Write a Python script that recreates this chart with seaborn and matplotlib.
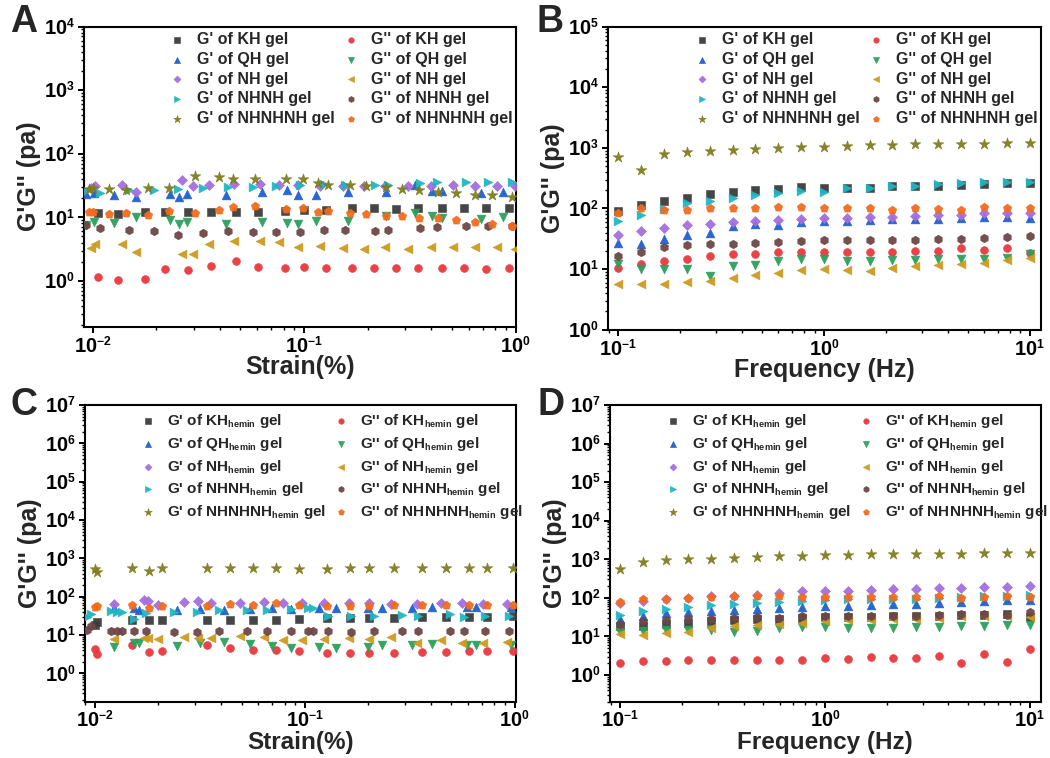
import numpy as np
import matplotlib
matplotlib.use("Agg")
import matplotlib.pyplot as plt
import seaborn as sns
from matplotlib.ticker import LogLocator, NullFormatter, LogFormatterSciNotation

try:
    # smaller sub/superscripts in math text (subscript "hemin", exponents)
    import matplotlib._mathtext as _mt
    _mt.SHRINK_FACTOR = 0.6
except Exception:
    pass

# ---------------- Panel A: strain sweep of the plain gels ----------------
a_kh_x = [0.0106, 0.0132, 0.0176, 0.0219, 0.0282, 0.0363, 0.0477, 0.0603, 0.0813, 0.100,
          0.127, 0.168, 0.214, 0.271, 0.346, 0.449, 0.569, 0.724, 0.933]
a_kh_gp = [11.7, 11.3, 12.3, 12.0, 12.0, 12.3, 12.3, 12.3, 12.7, 13.2, 13.1, 13.9, 13.9, 13.5,
           13.9, 13.9, 13.9, 13.9, 13.9]
a_kh_gpp = [1.17, 1.03, 1.06, 1.51, 1.47, 1.73, 2.02, 1.66, 1.62, 1.64, 1.57, 1.58, 1.62, 1.58,
            1.58, 1.58, 1.58, 1.55, 1.60]

a_qh_x = [0.00927, 0.0101, 0.0126, 0.0161, 0.0233, 0.0255, 0.0279, 0.0428, 0.0630, 0.0834,
          0.0938, 0.114, 0.161, 0.245, 0.336, 0.403, 0.449, 0.689, 0.869]
a_qh_gp = [23.3, 23.9, 22.0, 20.7, 23.3, 21.2, 23.3, 22.8, 25.4, 27.0, 22.8, 22.8, 25.4, 25.0,
           31.6, 26.3, 26.3, 23.9, 24.8]
a_qh_gpp = [7.66, 8.34, 8.04, 10.2, 9.19, 7.85, 8.34, 7.85, 8.34, 8.14, 7.85, 8.65, 8.86, 10.4,
            11.6, 10.6, 9.75, 9.41, 10.0]

a_nh_x = [0.00986, 0.0103, 0.0137, 0.0160, 0.0265, 0.0297, 0.0356, 0.0464, 0.0620, 0.0762,
          0.0940, 0.119, 0.153, 0.192, 0.241, 0.310, 0.399, 0.506, 0.641, 0.817, 0.996]
a_nh_gp = [29.0, 30.5, 31.6, 24.8, 38.8, 30.9, 31.6, 32.8, 32.8, 32.4, 31.6, 30.9, 30.9, 30.5,
           30.9, 30.9, 30.5, 31.6, 30.5, 30.5, 30.5]
a_nh_gpp = [3.28, 3.79, 3.79, 2.80, 2.63, 2.63, 3.79, 4.28, 4.18, 4.03, 3.36, 3.57, 3.28, 3.16,
            3.36, 3.16, 3.44, 3.36, 3.44, 3.36, 3.16]

a_nhnh_x = [0.0093, 0.0108, 0.0148, 0.0194, 0.0252, 0.0334, 0.0438, 0.0575, 0.0738, 0.0957,
            0.124, 0.156, 0.216, 0.249, 0.352, 0.424, 0.581, 0.738, 0.957]
a_nhnh_gp = [26.0, 23.9, 26.4, 27.0, 28.0, 29.0, 29.8, 29.8, 30.9, 31.6, 32.8, 31.6, 31.6, 32.4,
             34.4, 35.7, 35.7, 35.7, 35.7]
a_nhnh_gpp = [7.6, 6.79, 6.39, 6.16, 5.32, 5.66, 6.16, 5.80, 5.80, 5.94, 6.39, 6.39, 6.16, 6.39,
              6.70, 6.95, 7.39, 7.21, 7.21]

a_nhnhnh_x = [0.0096, 0.0100, 0.0120, 0.0143, 0.0182, 0.0229, 0.0306, 0.0397, 0.0459, 0.0585,
              0.082, 0.0989, 0.116, 0.130, 0.165, 0.197, 0.244, 0.289, 0.348, 0.430, 0.522,
              0.641, 0.773, 0.962]
a_nhnhnh_gp = [28.0, 29.0, 28.0, 26.4, 29.0, 29.0, 43.9, 42.8, 39.3, 39.3, 39.3, 40.3, 34.8, 31.6,
               31.6, 30.5, 29.8, 28.0, 26.4, 24.8, 23.9, 22.8, 22.0, 21.2]
a_nhnhnh_gpp = [12.0, 12.3, 11.3, 11.6, 10.9, 12.4, 11.6, 13.1, 14.4, 14.9, 13.5, 14.0, 12.3, 12.4,
                11.6, 11.3, 10.4, 10.4, 9.75, 9.64, 9.19, 8.34, 7.85, 7.39]

# ---------------- Panel B: frequency sweep of the plain gels ----------------
freq = [0.1, 0.129, 0.167, 0.215, 0.278, 0.359, 0.464, 0.599, 0.774, 1.0,
        1.29, 1.67, 2.15, 2.78, 3.59, 4.64, 5.99, 7.74, 10.0]
b_kh_gp = [90, 112, 135, 150, 170, 185, 198, 208, 222, 218, 218, 220, 232, 238, 235, 245, 250, 258, 262]
b_kh_gpp = [10.5, 12.2, 13.5, 14.4, 16.4, 17.9, 17.9, 18.8, 19.3, 19.3, 19.0, 19.0, 19.3, 19.8,
            20.0, 22.5, 20.3, 22.2, 18.6]
b_qh_gp = [27, 25.5, 31.6, 37, 39.7, 51, 56, 53, 60, 62, 63, 64, 66, 68, 68, 70, 73, 72, 70]
b_qh_gpp = [12.2, 9.9, 10.1, 10.1, 7.7, 11.2, 11.9, 13.5, 14.8, 14.8, 13.5, 13.5, 13.9, 13.9,
            14.4, 14.8, 14.4, 15.4, 17.5]
b_nh_gp = [37, 43, 48, 52.5, 54.5, 59.6, 61.8, 64, 66, 69, 70, 72, 73, 75, 77, 79, 83, 85, 85]
b_nh_gpp = [5.7, 5.7, 5.6, 6.2, 6.3, 7.2, 8.0, 8.7, 9.5, 9.9, 9.6, 9.3, 10.5, 11.2, 11.9, 12.2,
            12.7, 13.9, 15.4]
b_nhnh_gp = [62, 77, 99, 121, 135, 150, 164, 181, 193, 188, 214, 216, 233, 239, 255, 265, 272, 275, 275]
b_nhnh_gpp = [16.4, 19, 23, 24.6, 25.5, 26.2, 27.2, 27.9, 29, 29.7, 30, 29.7, 30, 30.5, 30.8,
              31.6, 32.4, 33.3, 35]
b_nhnhnh_gp = [700, 430, 780, 840, 880, 910, 950, 990, 1030, 1050, 1080, 1100, 1130, 1150, 1160,
               1170, 1170, 1190, 1210]
b_nhnhnh_gpp = [85, 101, 93, 95, 100, 100, 103, 105, 105, 101, 103, 100, 96, 100, 99, 95, 105, 101, 101]

# ---------------- Panel C: strain sweep of the hemin gels ----------------
c_kh_x = [0.0100, 0.0102, 0.0150, 0.0180, 0.0209, 0.0340, 0.0440, 0.0568, 0.0728, 0.0940,
          0.127, 0.164, 0.202, 0.266, 0.360, 0.469, 0.606, 0.738, 0.982]
c_kh_gp = [18.0, 22.6, 24.9, 24.9, 24.9, 24.9, 24.9, 24.9, 24.9, 25.9, 27.5, 28.6, 28.6, 28.6,
           29.1, 30.3, 30.3, 30.3, 31.5]
c_kh_gpp = [4.3, 3.2, 5.4, 3.6, 3.8, 5.4, 4.7, 4.0, 4.0, 3.8, 3.5, 3.4, 3.5, 3.5, 3.7, 3.7,
            3.8, 3.8, 3.8]

c_qh_x = [0.0123, 0.0154, 0.0162, 0.0247, 0.0317, 0.0412, 0.0546, 0.0700, 0.0855, 0.117,
          0.140, 0.199, 0.234, 0.325, 0.402, 0.594, 0.651, 0.966]
c_qh_gp = [50.0, 49.4, 44.8, 44.0, 46.6, 44.8, 46.6, 49.4, 46.6, 49.4, 49.4, 51.0, 51.0, 51.0,
           55.0, 53.0, 53.0, 55.0]
c_qh_gpp = [4.9, 6.1, 6.3, 5.2, 6.1, 6.6, 5.7, 5.2, 4.7, 5.0, 4.7, 5.0, 5.4, 5.4, 6.0, 5.4, 5.4, 5.5]

c_nh_x = [0.0123, 0.0171, 0.0179, 0.0200, 0.0265, 0.0309, 0.0357, 0.0490, 0.0638, 0.0786,
          0.0968, 0.124, 0.162, 0.202, 0.257, 0.341, 0.445, 0.560, 0.705, 0.917]
c_nh_gp = [63.7, 83.8, 77.4, 60.1, 73.1, 77.4, 68.9, 68.9, 73.1, 68.9, 68.9, 68.9, 68.9, 68.9,
           66.2, 66.2, 68.9, 68.9, 66.2, 66.2]
c_nh_gpp = [7.7, 8.2, 8.2, 7.7, 8.8, 8.5, 8.5, 9.4, 8.8, 7.3, 7.3, 8.0, 8.5, 7.7, 9.0, 6.3,
            7.3, 6.3, 6.3, 6.6]

c_nhnh_x = [0.0092, 0.0096, 0.0119, 0.0127, 0.0134, 0.0153, 0.0175, 0.0237, 0.0306, 0.0390,
            0.0532, 0.0663, 0.0855, 0.103, 0.109, 0.129, 0.166, 0.214, 0.291, 0.346, 0.491,
            0.573, 0.726, 0.938]
c_nhnh_gp = [30.3, 35.0, 43.0, 40.6, 40.6, 25.9, 36.8, 40.6, 40.6, 44.8, 44.8, 44.8, 46.6, 49.4,
             49.4, 31.5, 31.5, 32.1, 33.4, 31.5, 34.8, 30.3, 31.5, 31.5]
c_nhnh_gpp = [13.8, 16.8, 12.6, 12.6, 12.6, 12.6, 12.6, 12.1, 12.1, 12.6, 12.6, 12.6, 12.6, 12.6,
              12.6, 12.6, 12.1, 12.6, 12.6, 12.6, 12.6, 12.6, 12.6, 12.6]

c_nhnhnh_x = c_kh_x
c_nhnhnh_gp = [540, 450, 550, 470, 550, 550, 571, 571, 550, 518, 518, 550, 550, 550, 571, 571,
               571, 571, 571]
c_nhnhnh_gpp = [54.5, 56.0, 60.1, 49.4, 57.8, 57.8, 63.7, 60.1, 68.9, 60.1, 56.6, 56.6, 58.0,
                60.1, 60.1, 60.1, 60.1, 60.1, 60.1]

# ---------------- Panel D: frequency sweep of the hemin gels ----------------
d_kh_gp = [18.5, 18.8, 21.5, 22.8, 24.6, 26.1, 27.7, 28.7, 29.9, 31, 31.6, 32, 33.5, 34.8, 34.8,
           36, 36, 37.6, 31.6]
d_kh_gpp = [2.07, 2.37, 2.37, 2.47, 2.51, 2.47, 2.51, 2.51, 2.47, 2.71, 2.66, 2.87, 2.76, 2.76,
            3.04, 2.07, 3.48, 2.15, 4.64]
d_qh_gp = [28, 34.8, 40, 42, 46, 48, 53, 56, 58, 60, 62, 64, 68, 71, 75, 78, 83, 86, 87]
d_qh_gpp = [12.8, 13.9, 14.7, 14.7, 14.7, 12.8, 13.9, 16.2, 17.1, 17.1, 16.8, 16.2, 16.2, 17.1,
            17.8, 18.5, 18.8, 19.6, 19.6]
d_nh_gp = [72, 83, 91, 100, 110, 114, 121, 133, 147, 153, 155, 162, 168, 171, 178, 181, 188, 192, 203]
d_nh_gpp = [11.4, 11.0, 12.1, 13.3, 16.2, 18.5, 19.6, 20.7, 22.8, 24.6, 26.1, 27.1, 27.7, 28.7,
            29.9, 33.5, 34.8, 34.8, 31.6]
d_nhnh_gp = [37, 46, 53, 58, 64, 68, 72, 78, 83, 87, 91, 91, 94, 96, 100, 106, 110, 114, 121]
d_nhnh_gpp = [21.5, 24.6, 26.1, 27.7, 28.7, 29.9, 31.6, 29.9, 32.9, 34.8, 34.8, 33.5, 34.8, 34.8,
              36.9, 38.3, 38.3, 36.9, 42.2]
d_nhnhnh_gp = [560, 860, 944, 1000, 1040, 1100, 1144, 1189, 1235, 1283, 1309, 1334, 1359, 1386,
               1413, 1413, 1440, 1468, 1496]
d_nhnhnh_gpp = [78, 91, 96, 100, 106, 110, 114, 110, 106, 106, 106, 106, 106, 106, 110, 100, 106,
                110, 106]

GELS = ["KH", "QH", "NH", "NHNH", "NHNHNH"]

# marker / colour for (G', G'') of each gel
MARKERS = {"KH": ("s", "o"), "QH": ("^", "v"), "NH": ("D", "<"),
           "NHNH": (">", "h"), "NHNHNH": ("*", "p")}
COLORS = {"KH": ("#3c3c3c", "#e8393e"), "QH": ("#1f5fce", "#2a9f5c"),
          "NH": ("#a46ee0", "#cc9a1e"), "NHNH": ("#20b6c4", "#6d4646"),
          "NHNHNH": ("#7f7d1f", "#f26b1d")}
SIZES = {"s": 28, "o": 32, "^": 40, "v": 40, "D": 26, "<": 40, ">": 40,
         "h": 38, "*": 66, "p": 40}

sns.set_style("ticks")
plt.rcParams.update({
    "font.family": ["Liberation Sans", "DejaVu Sans"],
    "font.weight": "bold",
    "axes.labelweight": "bold",
    "mathtext.default": "regular",
    "axes.linewidth": 1.5,
    "xtick.major.width": 1.4, "ytick.major.width": 1.4,
    "xtick.minor.width": 1.0, "ytick.minor.width": 1.0,
    "xtick.major.size": 4, "ytick.major.size": 4,
    "xtick.minor.size": 2.2, "ytick.minor.size": 2.2,
    "xtick.major.pad": 2.5, "ytick.major.pad": 2.5,
    "xtick.labelsize": 14.5, "ytick.labelsize": 14.5,
    "xtick.direction": "out", "ytick.direction": "out",
    "xtick.color": "black", "ytick.color": "black",
    "axes.edgecolor": "black",
})

fig = plt.figure(figsize=(10.5, 7.58), dpi=100)
fig.patch.set_facecolor("white")

ax_a = fig.add_axes([0.080, 0.569, 0.411, 0.396])
ax_b = fig.add_axes([0.579, 0.565, 0.412, 0.400])
ax_c = fig.add_axes([0.081, 0.0739, 0.410, 0.3918])
ax_d = fig.add_axes([0.581, 0.0739, 0.410, 0.3918])

panels = [
    (ax_a, {"KH": (a_kh_x, a_kh_gp, a_kh_gpp), "QH": (a_qh_x, a_qh_gp, a_qh_gpp),
            "NH": (a_nh_x, a_nh_gp, a_nh_gpp), "NHNH": (a_nhnh_x, a_nhnh_gp, a_nhnh_gpp),
            "NHNHNH": (a_nhnhnh_x, a_nhnhnh_gp, a_nhnhnh_gpp)},
     False, "Strain(%)", (0.0091, 1.0), (0.19, 1e4), "A", (0.010, 0.971), 0.197),
    (ax_b, {"KH": (freq, b_kh_gp, b_kh_gpp), "QH": (freq, b_qh_gp, b_qh_gpp),
            "NH": (freq, b_nh_gp, b_nh_gpp), "NHNH": (freq, b_nhnh_gp, b_nhnh_gpp),
            "NHNHNH": (freq, b_nhnhnh_gp, b_nhnhnh_gpp)},
     False, "Frequency (Hz)", (0.089, 11.3), (1.0, 1e5), "B", (0.511, 0.971), 0.199),
    (ax_c, {"KH": (c_kh_x, c_kh_gp, c_kh_gpp), "QH": (c_qh_x, c_qh_gp, c_qh_gpp),
            "NH": (c_nh_x, c_nh_gp, c_nh_gpp), "NHNH": (c_nhnh_x, c_nhnh_gp, c_nhnh_gpp),
            "NHNHNH": (c_nhnhnh_x, c_nhnhnh_gp, c_nhnhnh_gpp)},
     True, "Strain(%)", (0.00896, 1.01), (0.18, 1e7), "C", (0.010, 0.466), 0.128),
    (ax_d, {"KH": (freq, d_kh_gp, d_kh_gpp), "QH": (freq, d_qh_gp, d_qh_gpp),
            "NH": (freq, d_nh_gp, d_nh_gpp), "NHNH": (freq, d_nhnh_gp, d_nhnh_gpp),
            "NHNHNH": (freq, d_nhnhnh_gp, d_nhnhnh_gpp)},
     True, "Frequency (Hz)", (0.089, 11.3), (0.2, 1e7), "D", (0.512, 0.466), 0.128),
]


def gel_label(prefix, gel, hemin):
    if hemin:
        return prefix + " of " + gel + r"$_{\mathdefault{hemin}}$" + " gel"
    return prefix + " of " + gel + " gel"


def decades(lo, hi):
    """Powers of ten lying inside [lo, hi]."""
    k0 = int(np.ceil(np.log10(lo) - 1e-9))
    k1 = int(np.floor(np.log10(hi) + 1e-9))
    return [10.0 ** k for k in range(k0, k1 + 1)]


for ax, data, hemin, xlabel, xlim, ylim, letter, letter_pos, leg_x in panels:
    for gel in GELS:
        x, gp, gpp = data[gel]
        for k, (vals, prefix) in enumerate(((gp, "G'"), (gpp, "G''"))):
            mk = MARKERS[gel][k]
            col = COLORS[gel][k]
            sns.scatterplot(x=x, y=vals, ax=ax, marker=mk, color=col, s=SIZES[mk],
                            edgecolor=col, linewidth=0.4, alpha=0.95,
                            label=gel_label(prefix, gel, hemin), zorder=3)
    handles, labels = ax.get_legend_handles_labels()
    order = list(range(0, 10, 2)) + list(range(1, 10, 2))
    if hemin:
        leg_kw = dict(bbox_to_anchor=(leg_x, 0.975), fontsize=11.0, columnspacing=0.45,
                      labelspacing=0.3)
    else:
        leg_kw = dict(bbox_to_anchor=(leg_x, 0.982), fontsize=11.5, columnspacing=0.5,
                      labelspacing=0.3)
    ax.legend([handles[i] for i in order], [labels[i] for i in order], ncol=2,
              loc="upper left", frameon=False, markerscale=0.7, handlelength=1.0,
              handletextpad=0.75, borderpad=0.0, borderaxespad=0.0, **leg_kw)

    ax.set_xscale("log")
    ax.set_yscale("log")
    ax.set_xlim(*xlim)
    ax.set_ylim(*ylim)
    ax.set_xticks(decades(*xlim))
    ax.set_yticks(decades(*ylim))
    for axis in (ax.xaxis, ax.yaxis):
        axis.set_major_formatter(LogFormatterSciNotation())
        axis.set_minor_locator(LogLocator(base=10, subs=np.arange(2, 10) * 1.0, numticks=300))
        axis.set_minor_formatter(NullFormatter())
    ax.set_xlim(*xlim)
    ax.set_ylim(*ylim)
    ax.tick_params(which="both", top=False, right=False)
    if hemin:
        ax.tick_params(axis="x", which="major", pad=1.5)
        ax.set_xlabel(xlabel, fontsize=17.5, labelpad=0)
    else:
        ax.set_xlabel(xlabel, fontsize=18, labelpad=-1.5)
    ax.set_ylabel("G'G'' (pa)", fontsize=18, labelpad=2)
    for sp in ax.spines.values():
        sp.set_visible(True)
        sp.set_linewidth(1.5)
    fig.text(letter_pos[0], letter_pos[1], letter, fontsize=27, fontweight="bold",
             ha="left", va="center")

fig.savefig("out.png", dpi=100, facecolor="white")
